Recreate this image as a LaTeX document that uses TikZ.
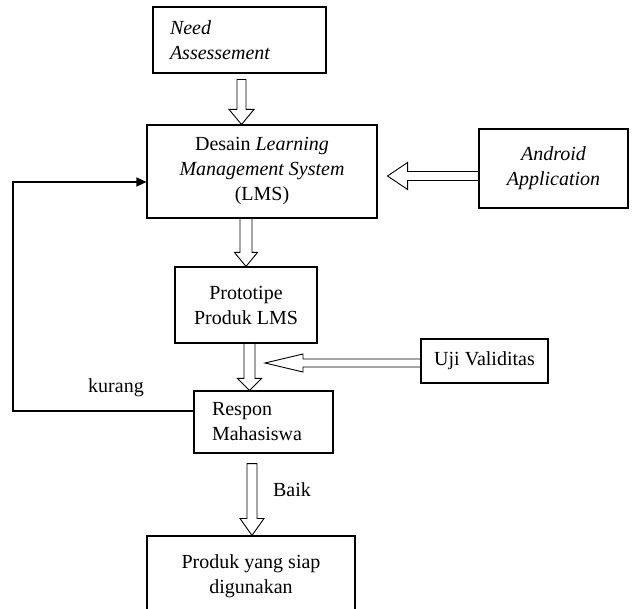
\documentclass[tikz,border=0pt]{standalone}
\usepackage{fontspec}
\setmainfont{Liberation Serif}
\usetikzlibrary{calc,arrows.meta}
\newcommand\dfont{\fontsize{20}{25}\selectfont}
% vertical hollow arrow: start, end, shaft half width, head half width, head length
\newcommand\hollowdown[5]{\draw[hollow] let \p1=(#1), \p2=(#2) in
  (\x1-#3pt,\y1) -- (\x1-#3pt,\y2+#5pt) -- (\x1-#4pt,\y2+#5pt) -- (\x1,\y2)
  -- (\x1+#4pt,\y2+#5pt) -- (\x1+#3pt,\y2+#5pt) -- (\x1+#3pt,\y1) -- cycle;}
% horizontal hollow arrow pointing left
\newcommand\hollowleft[5]{\draw[hollow] let \p1=(#1), \p2=(#2) in
  (\x1,\y1+#3pt) -- (\x2+#5pt,\y1+#3pt) -- (\x2+#5pt,\y1+#4pt) -- (\x2,\y1)
  -- (\x2+#5pt,\y1-#4pt) -- (\x2+#5pt,\y1-#3pt) -- (\x1,\y1-#3pt) -- cycle;}
\begin{document}
\begin{tikzpicture}[x=1pt,y=1pt,
  box/.style={draw, line width=1.1pt, inner sep=0pt, align=center, font=\dfont},
  hollow/.style={draw, fill=white, line width=0.9pt, line join=miter},
  fb/.style={line width=1.1pt, -{Triangle[length=10pt,width=9pt]}},
  lbl/.style={font=\dfont, inner sep=0pt}]
\useasboundingbox (0,0) rectangle (632,-609);
\fill[white] (0,0) rectangle (632,-609);

\node[box, minimum width=173pt, minimum height=66pt, text width=139pt, inner xsep=17pt, align=left]
  (need) at (239.5,-40) {\itshape Need\\\itshape Assessement};
\node[box, minimum width=230pt, minimum height=93pt]
  (desain) at (262,-171.5) {Desain \textit{Learning}\\\textit{Management System}\\(LMS)};
\node[box, minimum width=149pt, minimum height=79pt]
  (android) at (553.5,-168.5) {\itshape Android\\\itshape Application};
\node[box, minimum width=142pt, minimum height=76pt]
  (proto) at (246,-305) {Prototipe\\Produk LMS};
\node[box, minimum width=127pt, minimum height=44pt]
  (uji) at (484.5,-361) {Uji Validitas};
\node[box, minimum width=139pt, minimum height=62pt, text width=103pt, inner xsep=18pt, align=left]
  (respon) at (263.5,-422) {Respon\\Mahasiswa};
\node[box, minimum width=208pt, minimum height=80pt]
  (final) at (251,-576) {Produk yang siap\\digunakan};

% hollow arrows
\hollowdown{[xshift=2pt,yshift=-6pt]need.south}{desain.north}{4.5}{12.5}{15}
\hollowdown{proto.north |- desain.south}{proto.north}{6}{11.5}{14}
\hollowdown{[xshift=3.5pt]proto.south}{respon.north}{5.5}{12}{12}
\hollowdown{[xshift=-11.5pt,yshift=-10pt]respon.south}{final.north}{5}{12}{17}
\hollowleft{[yshift=-7.5pt]android.west}{[xshift=10pt]desain.east}{4.5}{13.5}{20}
\hollowleft{[yshift=-2pt]uji.west}{[xshift=19pt]proto.south}{4}{9}{38}

% feedback loop
\coordinate (loop) at (13,-411);
\draw[fb] ([yshift=11pt]respon.west) -- (loop) |- ([yshift=-10.5pt]desain.west);

\node[lbl] (kurang) at (116,-388) {kurang};
\node[lbl] (baik) at (292,-490) {Baik};
\end{tikzpicture}
\end{document}
